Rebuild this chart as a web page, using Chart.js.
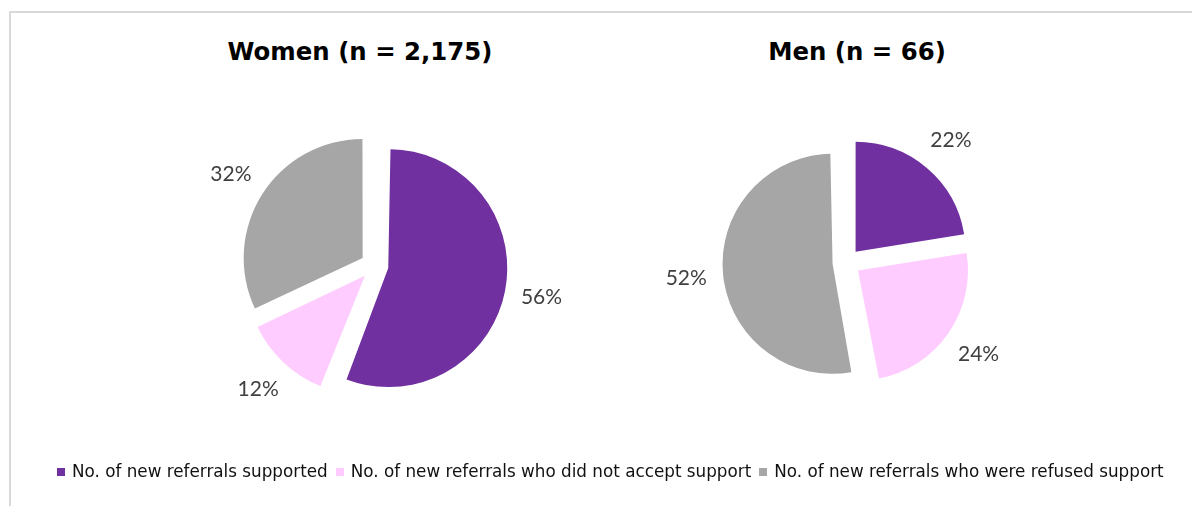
<!DOCTYPE html>
<html>
<head>
<meta charset="utf-8">
<title>New referrals by gender</title>
<script src="https://cdn.jsdelivr.net/npm/chart.js@4.4.1/dist/chart.umd.min.js"></script>
<style>
  html, body { margin: 0; padding: 0; background: #fff; }
  #frame {
    position: absolute; left: 9px; top: 11px; width: 1183px; height: 495px;
    border-top: 2px solid #d9d9d9; border-left: 2px solid #d9d9d9;
  }
  .title {
    position: absolute; top: 37px; width: 400px; text-align: center;
    font-family: "DejaVu Sans", sans-serif; font-weight: bold; font-size: 24.4px;
    line-height: 30px; color: #000; white-space: nowrap;
  }
  #women-title { left: 160px; }
  #men-title { left: 657px; }
  .pie { position: absolute; width: 401px; height: 401px; }
  #women-wrap { left: 174px; top: 65px; }
  #men-wrap { left: 646px; top: 62px; }
  #legend {
    position: absolute; left: 57px; top: 461px; display: flex;
    font-family: "DejaVu Sans", sans-serif; font-size: 16.8px; line-height: 20px;
    color: #111; white-space: nowrap;
  }
  .item { display: flex; align-items: center; margin-right: 8px; }
  .swatch { width: 8px; height: 8px; margin-right: 7px; position: relative; top: 1px; }
</style>
</head>
<body>
<div id="frame"></div>
<div class="title" id="women-title"></div>
<div class="title" id="men-title"></div>
<div class="pie" id="women-wrap"><canvas id="women-chart"></canvas></div>
<div class="pie" id="men-wrap"><canvas id="men-chart"></canvas></div>
<div id="legend"></div>

<script>
// Data
const categories = [
  "No. of new referrals supported",
  "No. of new referrals who did not accept support",
  "No. of new referrals who were refused support"
];
const womenTitle = "Women (n = 2,175)";
const menTitle = "Men (n = 66)";
const womenValues = [56, 12, 32];   // %
const menValues = [22, 24, 52];     // %
const sliceColors = ["#7030A0", "#FFCCFF", "#A6A6A6"];

const EXPLODE = 14;     // how far each slice is pulled out of the pie, px
const LABEL_GAP = 37;   // distance from the rim to the middle of a % label

// Chart.js moves a slice out by offset/4 and also grows the wide slices by that much,
// so pull the radius back to keep every slice the same size
const evenRadius = {
  id: "evenRadius",
  afterDatasetUpdate(chart, args) {
    const ds = chart.data.datasets[args.index];
    args.meta.data.forEach(function(arc) {
      const fix = 1 - Math.sin(Math.min(Math.PI, arc.circumference || 0));
      arc.outerRadius = ds.radius - EXPLODE * fix;
    });
  }
};

// Percentage labels outside each slice
const pctLabels = {
  id: "pctLabels",
  afterDatasetsDraw(chart) {
    const ctx = chart.ctx;
    const ds = chart.data.datasets[0];
    const meta = chart.getDatasetMeta(0);
    ctx.save();
    ctx.font = "21px Lato";
    ctx.fillStyle = "#404040";
    ctx.textAlign = "center";
    ctx.textBaseline = "middle";
    meta.data.forEach(function(arc, i) {
      const mid = (arc.startAngle + arc.endAngle) / 2;
      const dist = ds.radius + EXPLODE + LABEL_GAP;
      ctx.fillText(ds.data[i] + "%", arc.x + Math.cos(mid) * dist, arc.y + Math.sin(mid) * dist);
    });
    ctx.restore();
  }
};

function makePie(canvasId, values, radius) {
  const ctx = document.getElementById(canvasId).getContext("2d");
  return new Chart(ctx, {
    type: "pie",
    data: {
      labels: categories,
      datasets: [{
        data: values,
        backgroundColor: sliceColors,
        borderWidth: 0,
        offset: EXPLODE * 4,
        hoverOffset: 0,
        radius: radius
      }]
    },
    options: {
      responsive: true,
      maintainAspectRatio: false,
      animation: false,
      layout: { padding: 0 },
      plugins: {
        legend: { display: false },
        tooltip: { enabled: false },
        title: { display: false }
      }
    },
    plugins: [evenRadius, pctLabels]
  });
}

document.getElementById("women-title").textContent = womenTitle;
document.getElementById("men-title").textContent = menTitle;

makePie("women-chart", womenValues, 119);
makePie("men-chart", menValues, 110);

// Shared legend under both pies
const legend = document.getElementById("legend");
categories.forEach(function(name, i) {
  const item = document.createElement("div");
  item.className = "item";
  item.innerHTML = '<span class="swatch" style="background:' + sliceColors[i] + '"></span><span>' + name + '</span>';
  legend.appendChild(item);
});
</script>
</body>
</html>
